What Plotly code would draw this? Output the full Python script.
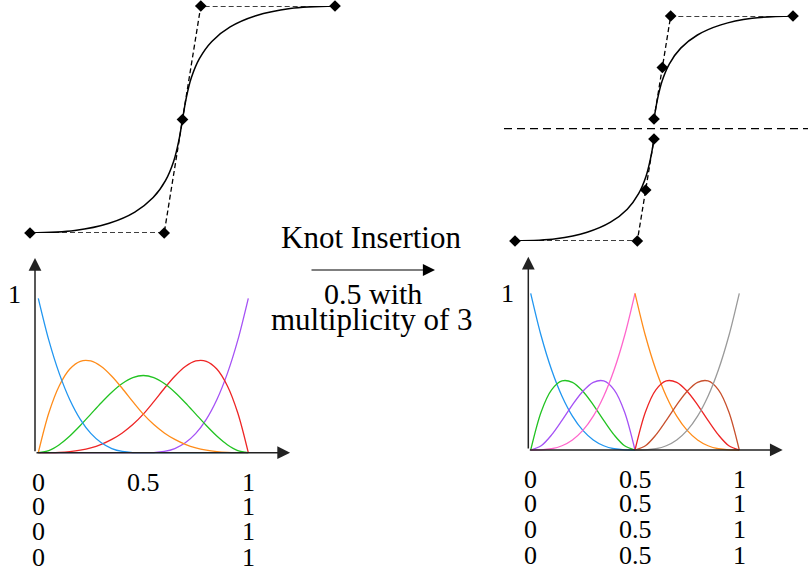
import plotly.graph_objects as go

# ---------------- data ----------------
# control polygon of the original curve (normalised units)
ctrl_x = [0.0, 0.44, 0.50, 0.56, 1.0]
ctrl_y = [0.0, 0.0, 0.50, 1.0, 1.0]

# curve samples, lower half and upper half
curve_lo_x = [0.0, 0.147, 0.2595, 0.3437, 0.4038, 0.4446, 0.4711, 0.4879, 0.5]
curve_lo_y = [0.0, 0.011, 0.043, 0.0923, 0.156, 0.232, 0.3164, 0.4068, 0.5]
curve_hi_x = [0.5, 0.5121, 0.5289, 0.5554, 0.5962, 0.6563, 0.7405, 0.853, 1.0]
curve_hi_y = [0.5, 0.5932, 0.6836, 0.768, 0.844, 0.9077, 0.957, 0.989, 1.0]

# control polygons after knot insertion (split curve)
split_lo_x = [0.0, 0.44, 0.47, 0.50]
split_lo_y = [0.0, 0.0, 0.25, 0.50]
split_hi_x = [0.50, 0.53, 0.56, 1.0]
split_hi_y = [0.50, 0.75, 1.0, 1.0]

# knot vectors
knots_left = [0, 0, 0, 0, 0.5, 1, 1, 1, 1]
knots_right = [0, 0, 0, 0, 0.5, 0.5, 0.5, 0.5, 1, 1, 1, 1]

# basis functions, left (before insertion)
u_full = [0.0, 0.05, 0.1, 0.15, 0.2, 0.25, 0.3, 0.35, 0.4, 0.45, 0.5,
          0.55, 0.6, 0.65, 0.7, 0.75, 0.8, 0.85, 0.9, 0.95, 1.0]
blue_l = [1.0, 0.729, 0.512, 0.343, 0.216, 0.125, 0.064, 0.027, 0.008, 0.001, 0,
          0, 0, 0, 0, 0, 0, 0, 0, 0, 0]
orange_l = [0, 0.257, 0.434, 0.542, 0.592, 0.594, 0.558, 0.495, 0.416, 0.331, 0.25,
            0.182, 0.128, 0.086, 0.054, 0.031, 0.016, 0.007, 0.002, 0.0003, 0]
green_l = [0, 0.014, 0.052, 0.108, 0.176, 0.25, 0.324, 0.392, 0.448, 0.486, 0.5,
           0.486, 0.448, 0.392, 0.324, 0.25, 0.176, 0.108, 0.052, 0.014, 0]
red_l = [0, 0.0003, 0.002, 0.007, 0.016, 0.031, 0.054, 0.086, 0.128, 0.182, 0.25,
         0.331, 0.416, 0.495, 0.558, 0.594, 0.592, 0.542, 0.434, 0.257, 0]
purple_l = [0, 0, 0, 0, 0, 0, 0, 0, 0, 0, 0,
            0.001, 0.008, 0.027, 0.064, 0.125, 0.216, 0.343, 0.512, 0.729, 1.0]

# basis functions, right (after insertion)
u_h1 = [0.0, 0.05, 0.1, 0.15, 0.2, 0.25, 0.3, 0.35, 0.4, 0.45, 0.5]
u_h2 = [0.5, 0.55, 0.6, 0.65, 0.7, 0.75, 0.8, 0.85, 0.9, 0.95, 1.0]
blue_r = [1.0, 0.729, 0.512, 0.343, 0.216, 0.125, 0.064, 0.027, 0.008, 0.001, 0]
green_r = [0, 0.243, 0.384, 0.441, 0.432, 0.375, 0.288, 0.189, 0.096, 0.027, 0]
purple_r = [0, 0.027, 0.096, 0.189, 0.288, 0.375, 0.432, 0.441, 0.384, 0.243, 0]
pink_r = [0, 0.001, 0.008, 0.027, 0.064, 0.125, 0.216, 0.343, 0.512, 0.729, 1.0]
orange_r = [1.0, 0.729, 0.512, 0.343, 0.216, 0.125, 0.064, 0.027, 0.008, 0.001, 0]
red_r = [0, 0.243, 0.384, 0.441, 0.432, 0.375, 0.288, 0.189, 0.096, 0.027, 0]
brown_r = [0, 0.027, 0.096, 0.189, 0.288, 0.375, 0.432, 0.441, 0.384, 0.243, 0]
gray_r = [0, 0.001, 0.008, 0.027, 0.064, 0.125, 0.216, 0.343, 0.512, 0.729, 1.0]

# ---------------- styling ----------------
W, H = 808, 571
FONT = "'Liberation Serif', 'Times New Roman', Times, 'DejaVu Serif', serif"
C = dict(blue="#2196F0", orange="#FF8C1A", green="#22C322", red="#EE2525",
         purple="#A552F5", pink="#FF66CC", brown="#C8502D", gray="#9A9A9A")


def px(p):
    return p / W


def py(p):
    return 1 - p / H


fig = go.Figure()


def curve(x, y, ax, width=1.5):
    fig.add_trace(go.Scatter(x=x, y=y, mode="lines", xaxis=ax[0], yaxis=ax[1],
                             line=dict(color="black", width=width, shape="spline"),
                             cliponaxis=False, hoverinfo="skip"))


def polygon(x, y, ax):
    fig.add_trace(go.Scatter(x=x, y=y, mode="lines+markers", xaxis=ax[0], yaxis=ax[1],
                             line=dict(color="black", width=1.3, dash="5px,3px"),
                             marker=dict(symbol="diamond", size=9, color="black"),
                             cliponaxis=False, hoverinfo="skip"))


def basis(x, y, color, ax):
    fig.add_trace(go.Scatter(x=x, y=y, mode="lines", xaxis=ax[0], yaxis=ax[1],
                             line=dict(color=color, width=1.3, shape="spline", smoothing=0.9),
                             cliponaxis=False, hoverinfo="skip"))


# top-left original curve
curve(curve_lo_x + curve_hi_x[1:], curve_lo_y + curve_hi_y[1:], ("x", "y"))
polygon(ctrl_x, ctrl_y, ("x", "y"))

# top-right split curve
curve(curve_lo_x, curve_lo_y, ("x3", "y3"))
polygon(split_lo_x, split_lo_y, ("x3", "y3"))
curve(curve_hi_x, curve_hi_y, ("x4", "y4"))
polygon(split_hi_x, split_hi_y, ("x4", "y4"))

# bottom-left basis
for ys, col in [(purple_l, "purple"), (red_l, "red"), (green_l, "green"),
                (orange_l, "orange"), (blue_l, "blue")]:
    basis(u_full, ys, C[col], ("x2", "y2"))

# bottom-right basis
for xs, ys, col in [(u_h1, blue_r, "blue"), (u_h1, green_r, "green"),
                    (u_h1, purple_r, "purple"), (u_h1, pink_r, "pink"),
                    (u_h2, orange_r, "orange"), (u_h2, red_r, "red"),
                    (u_h2, brown_r, "brown"), (u_h2, gray_r, "gray")]:
    basis(xs, ys, C[col], ("x5", "y5"))

hidden = dict(visible=False, fixedrange=True)
# basis panels: 210 px / unit (x), 154.4 px / unit (y) on the left;
# 208.6 px / unit (x), 156.7 px / unit (y) on the right
fig.update_layout(
    width=W, height=H, margin=dict(l=0, r=0, t=0, b=0),
    paper_bgcolor="white", plot_bgcolor="rgba(0,0,0,0)", showlegend=False,
    xaxis=dict(domain=[px(30), px(335)], range=[0, 1], anchor="y", **hidden),
    yaxis=dict(domain=[py(233), py(6)], range=[0, 1], anchor="x", **hidden),
    xaxis2=dict(domain=[px(38.3 - 0.03 * 210), px(38.3 + 1.22 * 210)],
                range=[-0.03, 1.22], anchor="y2", **hidden),
    yaxis2=dict(domain=[py(452.7 + 0.02 * 154.4), py(452.7 - 1.28 * 154.4)],
                range=[-0.02, 1.28], anchor="x2", **hidden),
    xaxis3=dict(domain=[px(515), px(793)], range=[0, 1], anchor="y3", **hidden),
    yaxis3=dict(domain=[py(241), py(139)], range=[0, 0.5], anchor="x3", **hidden),
    xaxis4=dict(domain=[px(515), px(793)], range=[0, 1], anchor="y4", **hidden),
    yaxis4=dict(domain=[py(119), py(16)], range=[0.5, 1], anchor="x4", **hidden),
    xaxis5=dict(domain=[px(530.7 - 0.03 * 208.6), px(530.7 + 1.22 * 208.6)],
                range=[-0.03, 1.22], anchor="y5", **hidden),
    yaxis5=dict(domain=[py(450 + 0.02 * 156.7), py(450 - 1.26 * 156.7)],
                range=[-0.02, 1.26], anchor="x5", **hidden),
)

# dashed separator between split halves
fig.add_shape(type="line", xref="paper", yref="paper", x0=px(504), x1=1.0,
              y0=py(128.7), y1=py(128.7), line=dict(color="black", width=1.2, dash="8px,5px"))

ann = []


def axis_arrow(xa, ya, x, y, x0, y0):
    ann.append(dict(xref=xa, yref=ya, axref=xa, ayref=ya, x=x, y=y, ax=x0, ay=y0,
                    text="", showarrow=True, arrowhead=2, arrowsize=1.7,
                    arrowwidth=1.5, arrowcolor="#222222"))


axis_arrow("x2", "y2", 1.199, 0, -0.0157, 0)
axis_arrow("x2", "y2", -0.0157, 1.261, -0.0157, 0)
axis_arrow("x5", "y5", 1.208, 0, -0.0115, 0)
axis_arrow("x5", "y5", -0.0115, 1.234, -0.0115, 0)


def text(x, y, s, size=26, xref="paper"):
    ann.append(dict(xref=xref, yref="paper", x=x, y=y, text=s, showarrow=False,
                    xanchor="center", yanchor="middle",
                    font=dict(family=FONT, size=size, color="black")))


# y = 1 labels
text(px(14), py(294), "1")
text(px(507), py(293), "1")


def knot_labels(knots, xref, rows_py):
    seen = {}
    for k in knots:
        r = seen.get(k, 0)
        seen[k] = r + 1
        text(k, py(rows_py[r]), f"{k:g}", xref=xref)


knot_labels(knots_left, "x2", [482.5, 506.5, 531.5, 557])
knot_labels(knots_right, "x5", [479, 503.5, 529, 555])

# middle caption + arrow
text(px(370.5), py(237), "Knot Insertion", size=31)
text(px(373), py(293), "0.5 with", size=30)
text(px(372), py(319), "multiplicity of 3", size=31)
ann.append(dict(xref="paper", yref="paper", x=px(435), y=py(270), ax=-125, ay=0,
                text="", showarrow=True, arrowhead=2, arrowsize=2.2,
                arrowwidth=1.1, arrowcolor="black"))

fig.update_layout(annotations=ann)
fig.write_html("out.html", config={"displayModeBar": False},
               post_script="document.body.style.margin='0';")
